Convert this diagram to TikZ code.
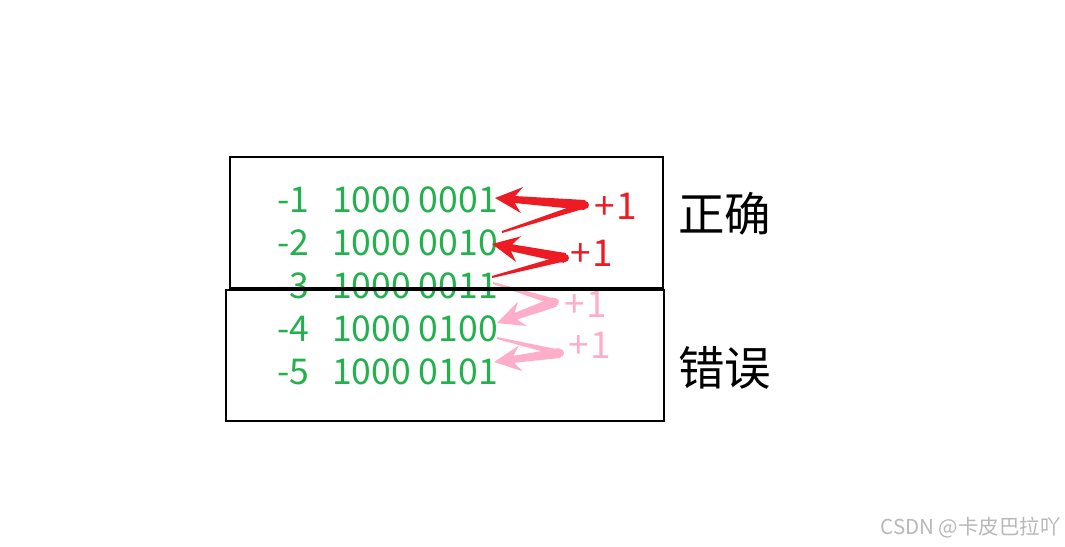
\documentclass[tikz,border=0pt]{standalone}
\usepackage{fontspec}
\setmainfont{Noto Sans CJK SC}
\usetikzlibrary{calc}
\definecolor{pgreen}{HTML}{22B14C}
\definecolor{pred}{HTML}{ED1C24}
\definecolor{ppink}{HTML}{FFAEC9}
\tikzset{
  numtxt/.style={anchor=base west, inner sep=0pt, text=pgreen, font=\fontsize{35.5}{40}\selectfont},
  plustxt/.style={anchor=base west, inner sep=0pt, font=\fontsize{37}{42}\selectfont},
  cjktxt/.style={anchor=west, inner sep=0pt, text=black, font=\fontsize{46.5}{52}\selectfont},
  boxline/.style={draw=black, line width=2pt},
}
% \bentarr{tail}{vertex}{tip}{colour}
\newcommand{\bentarr}[4]{%
  \fill[#4] ($(#1)!1pt!90:(#2)$) -- ($(#2)!3.2pt!-90:(#1)$) -- ($(#2)!3.2pt!90:(#1)$) -- ($(#1)!1pt!-90:(#2)$) -- cycle;
  \fill[#4] (#2) circle (4pt);
  \fill[#4] ($(#2)!5pt!90:(#3)$) -- ($($(#3)!20pt!(#2)$)!3.5pt!90:(#3)$)
     -- ($($(#3)!27pt!(#2)$)!13pt!90:(#3)$) -- (#3)
     -- ($($(#3)!27pt!(#2)$)!13pt!-90:(#3)$)
     -- ($($(#3)!20pt!(#2)$)!3.5pt!-90:(#3)$) -- ($(#2)!5pt!-90:(#3)$) -- cycle;
}
\begin{document}
\begin{tikzpicture}[x=1pt,y=-1pt]
\fill[white] (0,0) rectangle (1065,546);
\useasboundingbox (0,0) rectangle (1065,546);

% rows
\node[numtxt] (m1) at (277,212) {-1};
\node[numtxt] (b1) at (332,212) {1000 0001};
\node[numtxt] (m2) at (277,255) {-2};
\node[numtxt] (b2) at (332,255) {1000 0010};
\node[numtxt] (m3) at (277,298) {\textcolor{pgreen!40}{-}3};
\node[numtxt] (b3) at (332,298) {1000 0011};
\node[numtxt] (m4) at (277,341) {-4};
\node[numtxt] (b4) at (332,341) {1000 0100};
\node[numtxt] (m5) at (277,384) {-5};
\node[numtxt] (b5) at (332,384) {1000 0101};

% arrow key points
\coordinate (t1) at (502,232); \coordinate (v1) at (585,205); \coordinate (p1) at (495,198);
\coordinate (t2) at (492,277); \coordinate (v2) at (565,258); \coordinate (p2) at (492,244);
\coordinate (t3) at (493,283); \coordinate (v3) at (555,302); \coordinate (p3) at (497,323);
\coordinate (t4) at (497,338); \coordinate (v4) at (560,353); \coordinate (p4) at (494,362);

\bentarr{t1}{v1}{p1}{pred}
\bentarr{t2}{v2}{p2}{pred}
\bentarr{t3}{v3}{p3}{ppink}
\bentarr{t4}{v4}{p4}{ppink}

\node[plustxt, text=pred] (a1) at (594,219) {+\kern1.5pt 1};
\node[plustxt, text=pred] (a2) at (570,266) {+\kern1.5pt 1};
\node[plustxt, text=ppink] (a3) at (564,317) {+\kern1.5pt 1};
\node[plustxt, text=ppink] (a4) at (568,358) {+\kern1.5pt 1};

% boxes
\draw[boxline] (230,157) rectangle (663,288);
\draw[boxline] (226,290) rectangle (664,421);

\node[cjktxt] (ok) at (678,214) {正确};
\node[cjktxt] (bad) at (678,368) {错误};

\node[anchor=east, inner sep=0pt, text=black!28, font=\fontsize{20.5}{24}\selectfont] (wm) at (1061,528) {CSDN @卡皮巴拉吖};
\end{tikzpicture}
\end{document}
